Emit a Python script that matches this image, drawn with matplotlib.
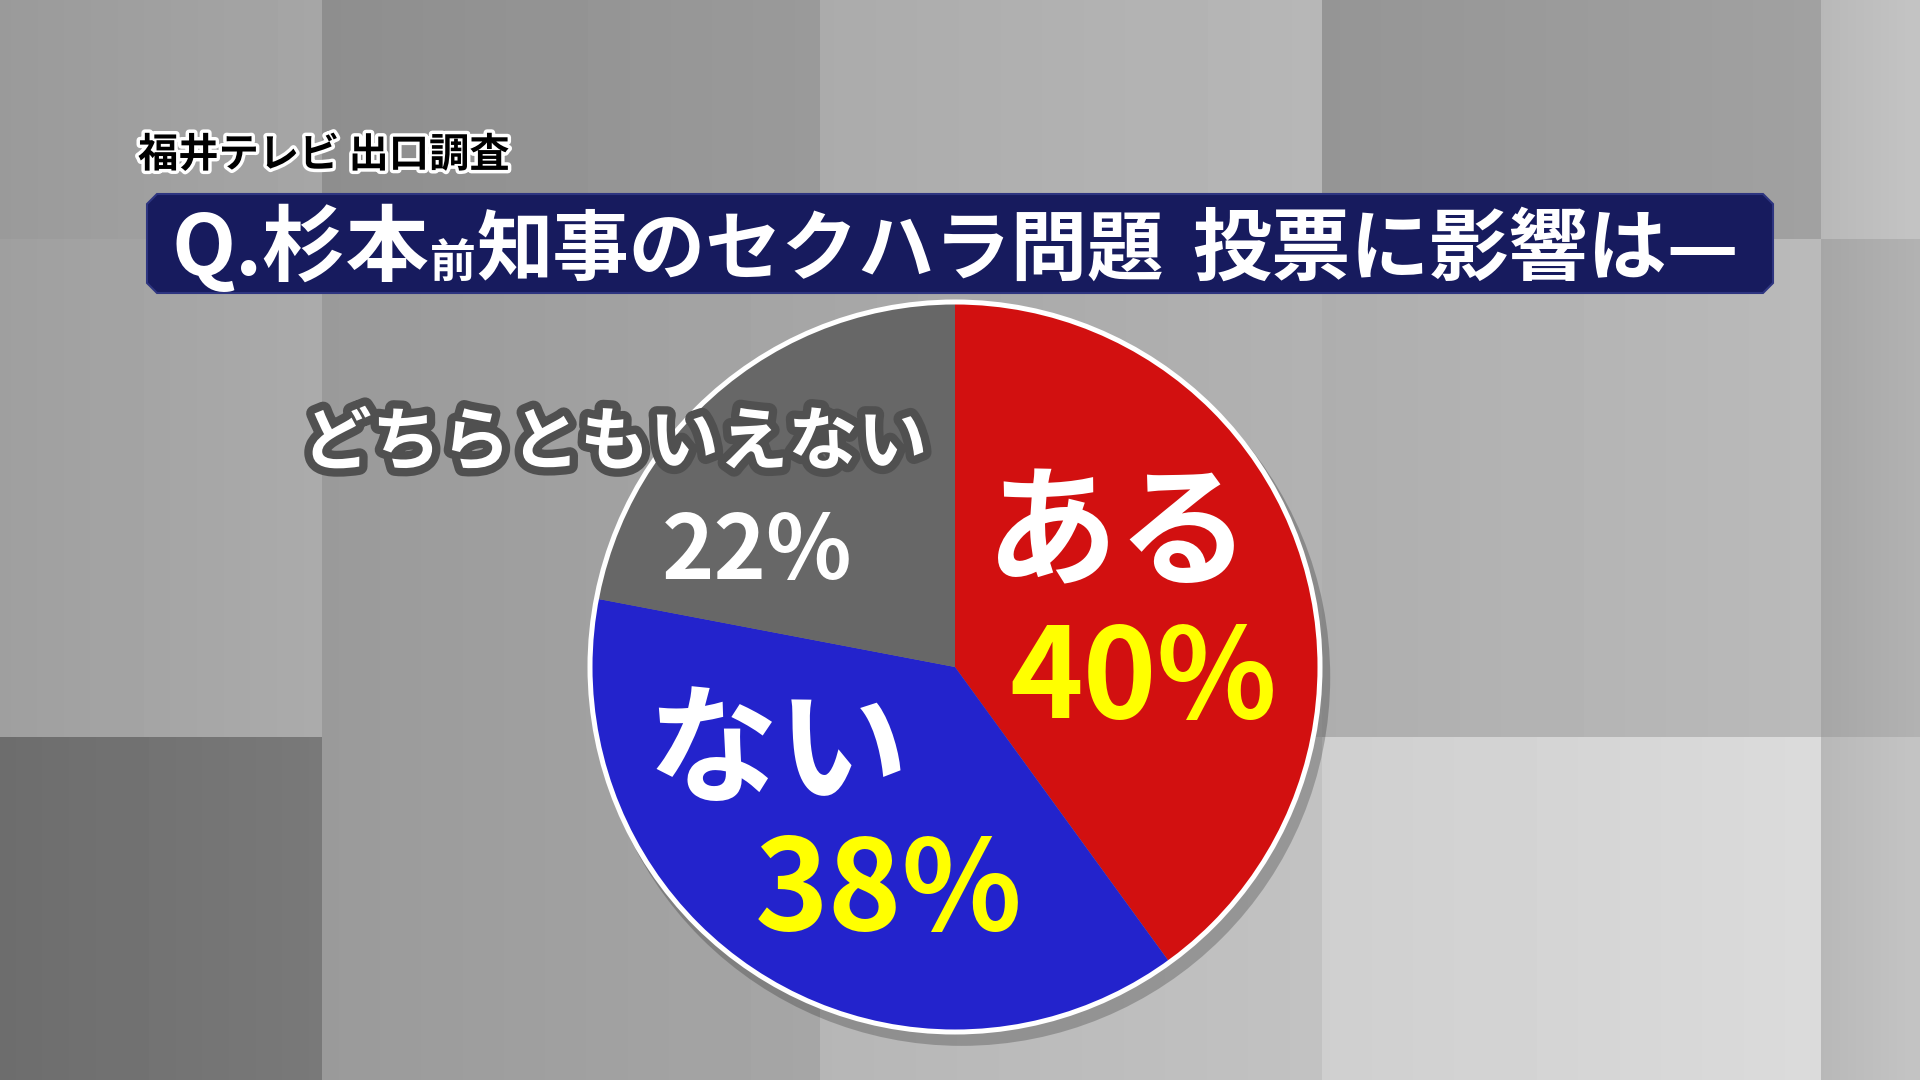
import numpy as np
import matplotlib
matplotlib.use("Agg")
import matplotlib.pyplot as plt
from matplotlib.patches import Polygon, Circle
import matplotlib.patheffects as pe

# ---------------- data ----------------
categories = ["ある", "ない", "どちらともいえない"]
values = [40, 38, 22]
pct_labels = [f"{v}%" for v in values]
slice_colors = ["#D21010", "#2323CC", "#676767"]
name_colors = ["white", "white", "white"]
pct_colors = ["#FFFF00", "#FFFF00", "white"]

source_text = "福井テレビ 出口調査"
title_main = "Q.杉本"
title_small = "前"
title_rest_a = "知事のセクハラ問題"
title_rest_b = "投票に影響は—"

FONT = ["Noto Sans CJK JP", "DejaVu Sans"]
plt.rcParams["font.family"] = FONT

W, H = 1920, 1080
fig = plt.figure(figsize=(19.2, 10.8), dpi=100)

# ---------------- background tiles ----------------
bg = fig.add_axes([0, 0, 1, 1], zorder=0)
col_edges = [0, 322, 820, 1322, 1821, 1920]
row_edges = [0, 239, 737, 1080]
tile_levels = [[160, 148, 177, 155, 190],
               [165, 160, 172, 180, 172],
               [115, 160, 188, 213, 190]]
img = np.zeros((H, W))
for r in range(3):
    for c in range(5):
        x0, x1 = col_edges[c], col_edges[c + 1]
        y0, y1 = row_edges[r], row_edges[r + 1]
        img[y0:y1, x0:x1] = tile_levels[r][c] + np.linspace(-6, 6, x1 - x0)
bg.imshow(img, cmap="gray", vmin=0, vmax=255, extent=(0, W, H, 0),
          aspect="auto", interpolation="nearest")
bg.set_xlim(0, W)
bg.set_ylim(H, 0)
bg.axis("off")

# title banner with chamfered corners
bx0, bx1, by0, by1, ch = 147, 1773, 194, 293, 10
pts = [(bx0 + ch, by0), (bx1 - ch, by0), (bx1, by0 + ch), (bx1, by1 - ch),
       (bx1 - ch, by1), (bx0 + ch, by1), (bx0, by1 - ch), (bx0, by0 + ch)]
bg.add_patch(Polygon(pts, closed=True, facecolor="#171B5E",
                     edgecolor="#2E3580", linewidth=1.5))

# ---------------- pie ----------------
cx, cy, R = 955, 667, 365
pad = 1.1
pie_ax = fig.add_axes([(cx - R * pad) / W, (H - cy - R * pad) / H,
                       2 * R * pad / W, 2 * R * pad / H], zorder=1)
pie_ax.add_patch(Circle((0.018, -0.028), 1.01, facecolor="black",
                        alpha=0.22, edgecolor="none", zorder=0))
pie_ax.pie(values, colors=slice_colors, startangle=90, counterclock=False,
           radius=1.0, wedgeprops=dict(linewidth=0, zorder=1))
pie_ax.add_patch(Circle((0, 0), 1.0, fill=False, edgecolor="white",
                        linewidth=3.6, zorder=5))
pie_ax.set_xlim(-pad, pad)
pie_ax.set_ylim(-pad, pad)
pie_ax.set_aspect("equal")
pie_ax.axis("off")

# ---------------- overlay text ----------------
ov = fig.add_axes([0, 0, 1, 1], zorder=2)
ov.set_xlim(0, W)
ov.set_ylim(H, 0)
ov.axis("off")
ov.patch.set_alpha(0)

ov.text(138, 167, source_text, fontsize=29, fontweight="bold", color="black",
        ha="left", va="baseline",
        path_effects=[pe.withStroke(linewidth=5, foreground="white")])

ov.text(171, 275, title_main, fontsize=60, fontweight="bold", color="white",
        ha="left", va="baseline")
ov.text(430, 278, title_small, fontsize=33, fontweight="bold", color="white",
        ha="left", va="baseline")
ov.text(477, 274, title_rest_a, fontsize=55, fontweight="bold", color="white",
        ha="left", va="baseline")
ov.text(1192, 274, title_rest_b, fontsize=57, fontweight="bold", color="white",
        ha="left", va="baseline")

# slice labels (name, then percentage)
name_pos = [(1118, 537), (778, 755), (615, 444)]
name_size = [95, 94, 50]
pct_pos = [(1143, 681), (889, 893), (757, 553)]
pct_size = [90, 90, 64]

for i in range(len(values)):
    effects = None
    if i == 2:
        effects = [pe.withStroke(linewidth=12, foreground="#505050")]
    ov.text(name_pos[i][0], name_pos[i][1], categories[i],
            fontsize=name_size[i], fontweight="bold", color=name_colors[i],
            ha="center", va="center", path_effects=effects)
    ov.text(pct_pos[i][0], pct_pos[i][1], pct_labels[i],
            fontsize=pct_size[i], fontweight="bold", color=pct_colors[i],
            ha="center", va="center")

fig.savefig("out.png", dpi=100)
